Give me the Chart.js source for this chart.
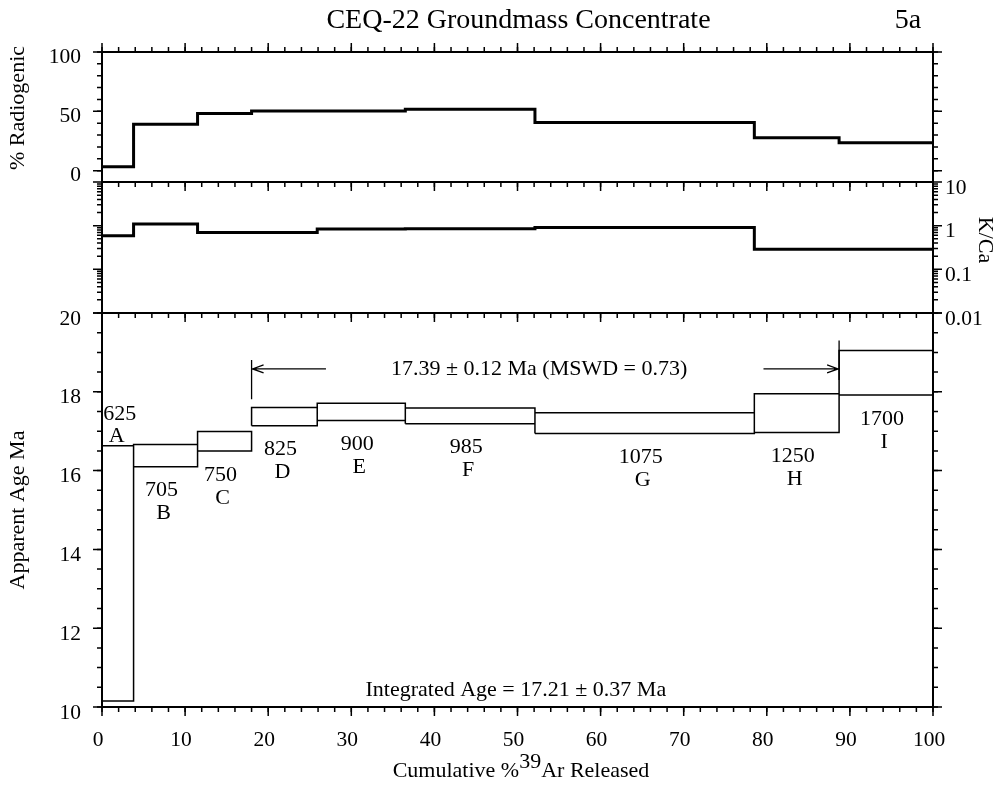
<!DOCTYPE html>
<html>
<head>
<meta charset="utf-8">
<script src="https://cdn.jsdelivr.net/npm/chart.js@4.4.0/dist/chart.umd.min.js"></script>
<style>
  html, body { margin: 0; padding: 0; background: #fff; }
  #wrap { position: relative; width: 1003px; height: 788px; }
  #wrap canvas { position: absolute; left: 0; top: 0; }
</style>
</head>
<body>
<div id="wrap">
  <canvas id="radChart" width="1003" height="788"></canvas>
  <canvas id="kcaChart" width="1003" height="788"></canvas>
  <canvas id="ageChart" width="1003" height="788"></canvas>
</div>
<script>
const FONT = '"Liberation Serif", "Times New Roman", serif';
Chart.defaults.font.family = FONT;
Chart.defaults.font.size = 21.5;
Chart.defaults.color = '#000';

// heating steps: cumulative % 39Ar boundaries, one step per temperature
const stepEdges = [0, 3.8, 11.5, 18.0, 25.9, 36.5, 52.1, 78.5, 88.7, 100];
const stepLetters = ['A', 'B', 'C', 'D', 'E', 'F', 'G', 'H', 'I'];
const stepTemps = ['625', '705', '750', '825', '900', '985', '1075', '1250', '1700'];

const radiogenic = [3.4, 39.2, 48.2, 50.2, 50.4, 51.8, 40.7, 27.7, 23.5];
const kca = [0.59, 1.09, 0.70, 0.70, 0.84, 0.85, 0.91, 0.29, 0.29];
const ageLow = [10.15, 16.10, 16.50, 17.14, 17.27, 17.19, 16.94, 16.97, 17.92];
const ageHigh = [16.63, 16.66, 16.99, 17.60, 17.71, 17.59, 17.47, 17.95, 19.05];

const xTicks = [0, 10, 20, 30, 40, 50, 60, 70, 80, 90, 100];
const radTicks = [0, 50, 100];
const kcaTicks = [0.01, 0.1, 1, 10];
const ageTicks = [10, 12, 14, 16, 18, 20];

const plateauText = '17.39 \u00b1 0.12 Ma (MSWD = 0.73)';
const integratedText = 'Integrated Age = 17.21 \u00b1 0.37 Ma';

function range(a, b, step) {
  const out = [];
  for (let v = a; v <= b + 1e-9; v += step) out.push(+v.toFixed(4));
  return out;
}
const xMinor = range(0, 100, 2);
const kcaMinor = [];
[0.01, 0.1, 1].forEach(d => { for (let k = 2; k <= 9; k++) kcaMinor.push(d * k); });

function stepPoints(values) {
  const pts = values.map((v, i) => ({ x: stepEdges[i], y: v }));
  pts.push({ x: stepEdges[values.length], y: values[values.length - 1] });
  return pts;
}

// one closed rectangle per step, separated by gaps
const boxPoints = [];
ageLow.forEach((lo, i) => {
  const x0 = stepEdges[i], x1 = stepEdges[i + 1], hi = ageHigh[i];
  boxPoints.push({ x: x0, y: lo }, { x: x0, y: hi }, { x: x1, y: hi },
                 { x: x1, y: lo }, { x: x0, y: lo }, { x: x0, y: null });
});

// frame around the plot area, tick marks on its edges, optional side title
const frameTicks = {
  id: 'frameTicks',
  afterDraw(chart, args, opts) {
    const { ctx, chartArea: a, scales } = chart;
    ctx.save();
    ctx.strokeStyle = '#000';
    ctx.lineWidth = 1.5;
    (opts.marks || []).forEach(m => {
      const s = scales[m.scale];
      ctx.beginPath();
      m.values.forEach(v => {
        const p = s.getPixelForValue(v);
        if (m.side === 'top') { ctx.moveTo(p, a.top); ctx.lineTo(p, a.top - m.len); }
        if (m.side === 'bottom') { ctx.moveTo(p, a.bottom); ctx.lineTo(p, a.bottom + m.len); }
        if (m.side === 'left') { ctx.moveTo(a.left, p); ctx.lineTo(a.left - m.len, p); }
        if (m.side === 'right') { ctx.moveTo(a.right, p); ctx.lineTo(a.right + m.len, p); }
      });
      ctx.stroke();
    });
    ctx.lineWidth = 2;
    ctx.strokeRect(a.left, a.top, a.right - a.left, a.bottom - a.top);

    if (opts.title) {
      const t = opts.title;
      ctx.translate(t.x, t.y);
      ctx.rotate(t.rotation);
      ctx.fillStyle = '#000';
      ctx.font = `22px ${FONT}`;
      ctx.textAlign = 'center';
      ctx.textBaseline = 'middle';
      ctx.fillText(t.text, 0, 0);
    }
    ctx.restore();
  }
};

function xMarks(sides) {
  const out = [];
  sides.forEach(side => {
    out.push({ scale: 'x', side, values: xMinor, len: 5 });
    out.push({ scale: 'x', side, values: xTicks, len: 9 });
  });
  return out;
}
function yMarks(minor, major) {
  return ['left', 'right'].flatMap(side => [
    { scale: 'y', side, values: minor, len: 5 },
    { scale: 'y', side, values: major, len: 9 }
  ]);
}

const baseOptions = {
  responsive: false,
  animation: false,
  events: [],
  elements: { line: { tension: 0 }, point: { radius: 0 } },
};
const hiddenX = { type: 'linear', min: 0, max: 100, display: false };
const plainAxis = { grid: { display: false, drawTicks: false }, border: { display: false } };

// % Radiogenic
new Chart(document.getElementById('radChart'), {
  type: 'line',
  data: { datasets: [{ data: stepPoints(radiogenic), stepped: true, borderColor: '#000', borderWidth: 3, fill: false }] },
  options: {
    ...baseOptions,
    layout: { padding: { left: 0, right: 70, top: 52, bottom: 606 }, autoPadding: false },
    plugins: { legend: { display: false }, tooltip: { enabled: false },
      frameTicks: {
        marks: [...xMarks(['top', 'bottom']), ...yMarks(range(0, 100, 10), radTicks)],
        title: { text: '% Radiogenic', x: 18, y: 108, rotation: -Math.PI / 2 }
      } },
    scales: {
      x: hiddenX,
      y: {
        ...plainAxis, type: 'linear', position: 'left', min: -9.5, max: 100,
        afterBuildTicks: s => { s.ticks = radTicks.map(v => ({ value: v })); },
        afterFit: s => { s.width = 102; },
        ticks: { padding: 21, labelOffset: 5 }
      }
    }
  },
  plugins: [frameTicks]
});

// K/Ca
new Chart(document.getElementById('kcaChart'), {
  type: 'line',
  data: { datasets: [{ data: stepPoints(kca), stepped: true, borderColor: '#000', borderWidth: 3, fill: false }] },
  options: {
    ...baseOptions,
    layout: { padding: { left: 102, right: 0, top: 182, bottom: 475 }, autoPadding: false },
    plugins: { legend: { display: false }, tooltip: { enabled: false },
      frameTicks: {
        marks: [...xMarks(['bottom']), ...yMarks(kcaMinor, kcaTicks)],
        title: { text: 'K/Ca', x: 985, y: 240, rotation: Math.PI / 2 }
      } },
    scales: {
      x: hiddenX,
      y: {
        ...plainAxis, type: 'logarithmic', position: 'right', min: 0.01, max: 10,
        afterBuildTicks: s => { s.ticks = kcaTicks.map(v => ({ value: v })); },
        afterFit: s => { s.width = 70; },
        ticks: { padding: 12, labelOffset: 6, callback: v => String(v) }
      }
    }
  },
  plugins: [frameTicks]
});

// labels, plateau arrows and headings on the age spectrum
const ageNotes = {
  id: 'ageNotes',
  afterDraw(chart) {
    const { ctx, scales: { x, y } } = chart;
    ctx.save();
    ctx.fillStyle = '#000';
    ctx.strokeStyle = '#000';
    ctx.textAlign = 'center';
    ctx.textBaseline = 'middle';
    ctx.font = `22px ${FONT}`;

    stepTemps.forEach((t, i) => {
      const cx = x.getPixelForValue((stepEdges[i] + stepEdges[i + 1]) / 2);
      if (i === 0) {
        const top = y.getPixelForValue(ageHigh[i]);
        ctx.fillText(t, cx + 2, top - 32);
        ctx.fillText(stepLetters[i], cx - 1, top - 10);
      } else {
        const bot = y.getPixelForValue(ageLow[i]);
        ctx.fillText(t, cx - 4, bot + 24);
        ctx.fillText(stepLetters[i], cx - 2, bot + 47);
      }
    });

    // plateau bracket: steps D through H
    const ya = y.getPixelForValue(18.58);
    const xl = x.getPixelForValue(stepEdges[3]);
    const xr = x.getPixelForValue(stepEdges[8]);
    ctx.lineWidth = 1.3;
    ctx.beginPath();
    ctx.moveTo(xl, y.getPixelForValue(18.81)); ctx.lineTo(xl, y.getPixelForValue(17.81));
    ctx.moveTo(xr, y.getPixelForValue(19.30)); ctx.lineTo(xr, y.getPixelForValue(18.30));
    ctx.moveTo(xl, ya); ctx.lineTo(x.getPixelForValue(26.95), ya);
    ctx.moveTo(x.getPixelForValue(79.6), ya); ctx.lineTo(xr, ya);
    ctx.moveTo(xl + 12, ya - 4); ctx.lineTo(xl + 1, ya); ctx.lineTo(xl + 12, ya + 4);
    ctx.moveTo(xr - 12, ya - 4); ctx.lineTo(xr - 1, ya); ctx.lineTo(xr - 12, ya + 4);
    ctx.stroke();
    ctx.fillText(plateauText, x.getPixelForValue(52.6), ya);
    ctx.fillText(integratedText, x.getPixelForValue(49.8), y.getPixelForValue(10.42));

    // chart heading
    ctx.font = `28px ${FONT}`;
    ctx.fillText('CEQ-22 Groundmass Concentrate', 518.5, 21);
    ctx.fillText('5a', 908, 21);

    // x-axis title with raised isotope number
    ctx.font = `22px ${FONT}`;
    ctx.textAlign = 'left';
    const parts = ['Cumulative %', '39', 'Ar Released'];
    const widths = parts.map(p => ctx.measureText(p).width);
    let sx = 521 - widths.reduce((s, w) => s + w, 0) / 2;
    ctx.fillText(parts[0], sx, 771); sx += widths[0];
    ctx.fillText(parts[1], sx, 762); sx += widths[1];
    ctx.fillText(parts[2], sx, 771);
    ctx.restore();
  }
};

// Apparent age spectrum
new Chart(document.getElementById('ageChart'), {
  type: 'line',
  data: { datasets: [{ data: boxPoints, borderColor: '#000', borderWidth: 1.5, fill: false, spanGaps: false }] },
  options: {
    ...baseOptions,
    layout: { padding: { left: 0, right: 70, top: 313, bottom: 0 }, autoPadding: false },
    plugins: { legend: { display: false }, tooltip: { enabled: false },
      frameTicks: { marks: [...xMarks(['bottom']), ...yMarks(range(10, 20, 0.5), ageTicks)] } },
    scales: {
      x: {
        ...plainAxis, type: 'linear', min: 0, max: 100,
        afterBuildTicks: s => { s.ticks = xTicks.map(v => ({ value: v })); },
        afterFit: s => { s.height = 81; },
        ticks: { padding: 20, labelOffset: -4, maxRotation: 0, autoSkip: false }
      },
      y: {
        ...plainAxis, type: 'linear', position: 'left', min: 10, max: 20,
        afterBuildTicks: s => { s.ticks = ageTicks.map(v => ({ value: v })); },
        afterFit: s => { s.width = 102; },
        ticks: { padding: 21, labelOffset: 6 },
        title: { display: true, text: 'Apparent Age Ma', font: { size: 22 }, padding: 5 }
      }
    }
  },
  plugins: [frameTicks, ageNotes]
});
</script>
</body>
</html>
